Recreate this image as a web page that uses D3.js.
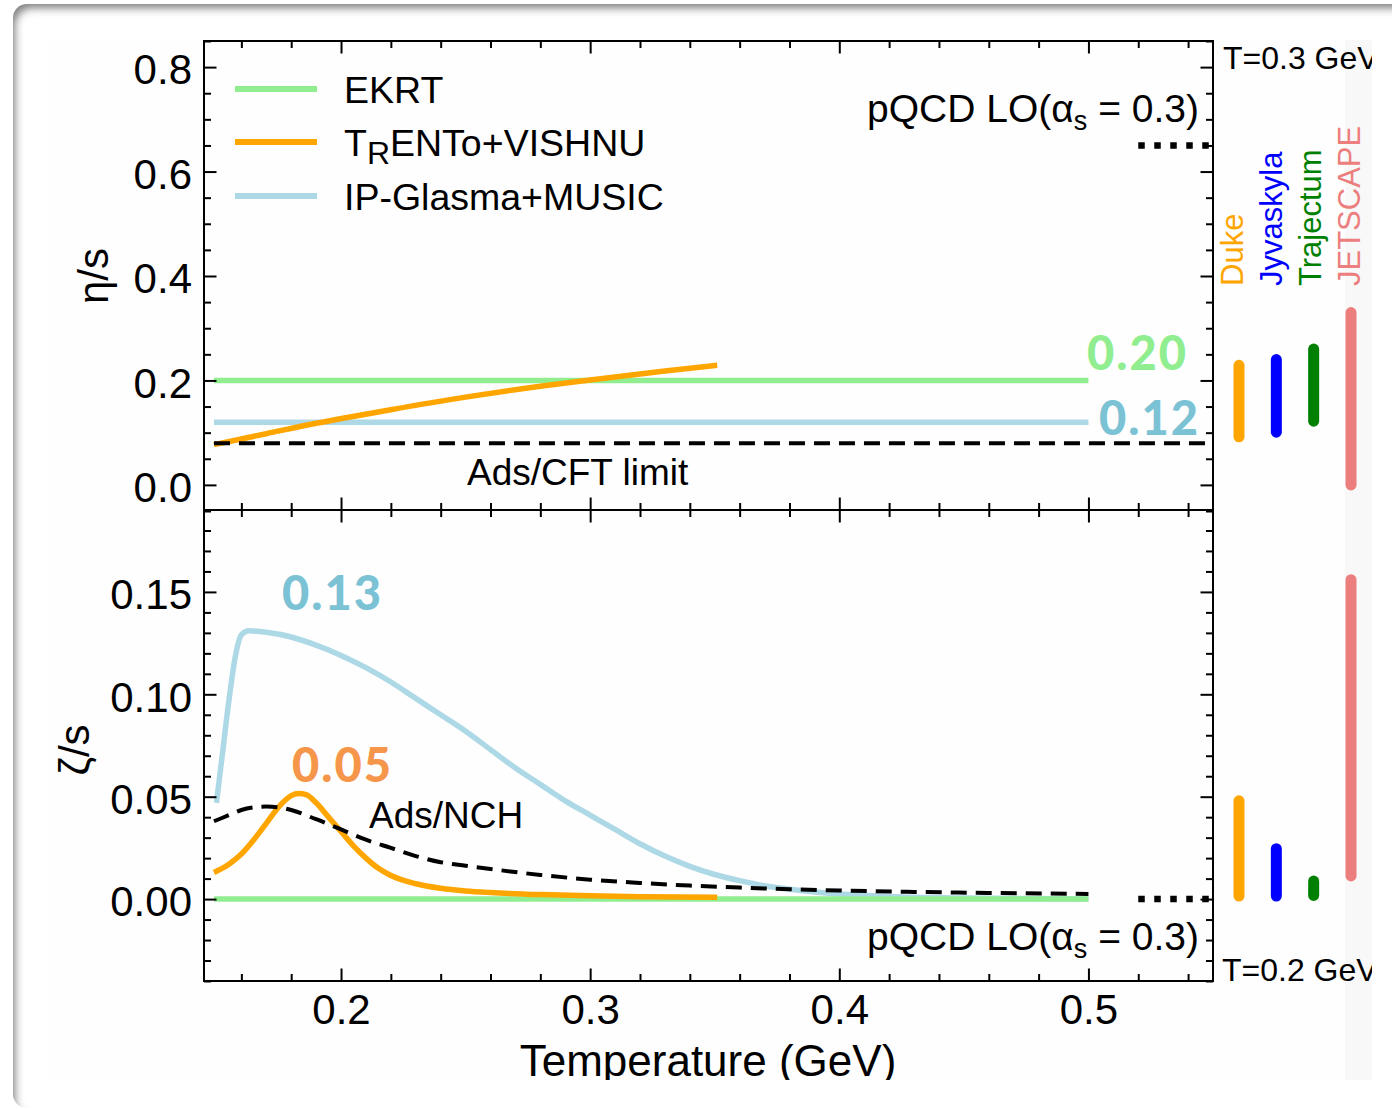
<!DOCTYPE html>
<html>
<head>
<meta charset="utf-8">
<script src="https://cdn.jsdelivr.net/npm/d3@7.9.0/dist/d3.min.js"></script>
<style>
  body { margin: 0; background: #fff; width: 1392px; height: 1109px; overflow: hidden; position: relative; }
  #card { position: absolute; left: 13px; top: 4px; width: 1450px; height: 1104px; border-radius: 14px;
          background: #fff; box-shadow: inset 5px 7px 9px -3px rgba(0,0,0,0.5); }
  svg { position: absolute; left: 0; top: 0; }
  text { font-family: "Liberation Sans", Arial, Helvetica, sans-serif; fill: #000; }
</style>
</head>
<body>
<div id="card"></div>
<svg id="chart" width="1392" height="1109"></svg>
<script>
// ---- data (temperature in GeV) ----
const etaT = [0.149, 0.5];
const ekrtEta = [0.20, 0.20];
const glasmaEta = [0.12, 0.12];
const trentoEtaT = [0.149, 0.17, 0.19, 0.22, 0.25, 0.28, 0.30, 0.33, 0.351];
const trentoEta = [0.077, 0.098, 0.118, 0.144, 0.168, 0.189, 0.201, 0.218, 0.229];
const adsCftT = [0.149, 0.55];
const adsCftEta = [0.0796, 0.0796];
const pqcdT = [0.52, 0.55];
const pqcdEta = [0.65, 0.65];
const pqcdZeta = [0.0, 0.0];

const ekrtZetaT = [0.149, 0.5];
const ekrtZeta = [0.0, 0.0];
const glasmaZetaT = [0.150, 0.1525, 0.155, 0.1575, 0.160, 0.163, 0.170, 0.180, 0.190, 0.200, 0.210, 0.220, 0.230, 0.240, 0.250,
  0.260, 0.270, 0.280, 0.290, 0.300, 0.310, 0.320, 0.330, 0.340, 0.350, 0.360, 0.370, 0.380, 0.400, 0.420, 0.450, 0.500];
const glasmaZeta = [0.047, 0.072, 0.097, 0.118, 0.129, 0.131, 0.1303, 0.128, 0.124, 0.119, 0.113, 0.106, 0.098, 0.090, 0.082,
  0.073, 0.064, 0.056, 0.048, 0.041, 0.034, 0.027, 0.021, 0.016, 0.012, 0.009, 0.0065, 0.0048, 0.0025, 0.0013, 0.0005, 0.0001];
const trentoZetaT = [0.149, 0.155, 0.160, 0.165, 0.170, 0.175, 0.180, 0.183, 0.186, 0.190, 0.195, 0.200, 0.205, 0.210,
  0.215, 0.220, 0.230, 0.240, 0.250, 0.260, 0.280, 0.300, 0.320, 0.351];
const trentoZeta = [0.013, 0.017, 0.022, 0.029, 0.037, 0.045, 0.0505, 0.0515, 0.051, 0.047, 0.040, 0.033, 0.026, 0.020,
  0.015, 0.0115, 0.0075, 0.0053, 0.0040, 0.0032, 0.0022, 0.0016, 0.0012, 0.0009];
const nchZetaT = [0.149, 0.155, 0.160, 0.165, 0.170, 0.175, 0.180, 0.190, 0.200, 0.210, 0.220, 0.230, 0.240, 0.250,
  0.260, 0.280, 0.300, 0.320, 0.340, 0.360, 0.380, 0.400, 0.430, 0.460, 0.500];
const nchZeta = [0.038, 0.041, 0.0435, 0.0448, 0.0452, 0.0448, 0.0435, 0.039, 0.034, 0.029, 0.025, 0.021, 0.018, 0.0163,
  0.0147, 0.0118, 0.0095, 0.0079, 0.0066, 0.0056, 0.0048, 0.0042, 0.0035, 0.0030, 0.0025];

// posterior ranges at T=0.3 GeV (eta/s) and T=0.2 GeV (zeta/s)
const groups = ['Duke', 'Jyvaskyla', 'Trajectum', 'JETSCAPE'];
const groupColors = ['#ffa500', '#0000ff', '#008000', '#ec7e7e'];
const etaLow = [0.092, 0.101, 0.122, 0.0];
const etaHigh = [0.229, 0.240, 0.260, 0.330];
const zetaLow = [0.0015, 0.0015, 0.0018, 0.0113];
const zetaHigh = [0.048, 0.0246, 0.0088, 0.156];

const xMajor = [0.2, 0.3, 0.4, 0.5];
const etaMajor = [0.0, 0.2, 0.4, 0.6, 0.8];
const zetaMajor = [0.0, 0.05, 0.10, 0.15];

const legendNames = ['EKRT', 'TRENTo+VISHNU', 'IP-Glasma+MUSIC'];
const modelColors = ['#90ee90', '#ffa500', '#add8e6'];

// ---- scales ----
const x = d3.scaleLinear().domain([0.145, 0.55]).range([204, 1213]);
const yEta = d3.scaleLinear().domain([-0.05, 0.85]).range([511, 41]);
const yZeta = d3.scaleLinear().domain([-0.04, 0.19]).range([981, 510]);
const xGroup = d3.scalePoint().domain(groups).range([1239, 1351]);
const xGroupLabel = d3.scalePoint().domain(groups).range([1243, 1360]);

const svg = d3.select('#chart');
const defs = svg.append('defs');
defs.append('clipPath').attr('id', 'img').append('rect')
  .attr('x', 48).attr('y', 40).attr('width', 1324).attr('height', 1040);
defs.append('clipPath').attr('id', 'topPlot').append('rect')
  .attr('x', 204).attr('y', 41).attr('width', 1009).attr('height', 469);
defs.append('clipPath').attr('id', 'botPlot').append('rect')
  .attr('x', 204).attr('y', 510).attr('width', 1009).attr('height', 471);

const root = svg.append('g').attr('clip-path', 'url(#img)');
root.append('rect').attr('x', 48).attr('y', 40).attr('width', 1324).attr('height', 1040).attr('fill', '#fefefe');
root.append('rect').attr('x', 1345).attr('y', 40).attr('width', 27).attr('height', 1040).attr('fill', '#f8f8f8');

function drawLine(g, xs, ys, yScale, color, width, dash) {
  const line = d3.line().x(d => x(d[0])).y(d => yScale(d[1])).curve(d3.curveMonotoneX);
  g.append('path')
    .attr('d', line(d3.zip(xs, ys)))
    .attr('fill', 'none')
    .attr('stroke', color)
    .attr('stroke-width', width)
    .attr('stroke-dasharray', dash || null);
}

// ---- top panel: eta/s ----
const gTop = root.append('g').attr('clip-path', 'url(#topPlot)');
drawLine(gTop, etaT, ekrtEta, yEta, modelColors[0], 5.5);
drawLine(gTop, etaT, glasmaEta, yEta, modelColors[2], 5.5);
drawLine(gTop, trentoEtaT, trentoEta, yEta, modelColors[1], 5.5);
drawLine(gTop, adsCftT, adsCftEta, yEta, '#000', 4, '16 9');
drawLine(gTop, pqcdT, pqcdEta, yEta, '#000', 6.5, '6.5 9.5');

// ---- bottom panel: zeta/s ----
const gBot = root.append('g').attr('clip-path', 'url(#botPlot)');
drawLine(gBot, glasmaZetaT, glasmaZeta, yZeta, modelColors[2], 5.5);
drawLine(gBot, ekrtZetaT, ekrtZeta, yZeta, modelColors[0], 5.5);
drawLine(gBot, trentoZetaT, trentoZeta, yZeta, modelColors[1], 5.5);
drawLine(gBot, nchZetaT, nchZeta, yZeta, '#000', 4, '16 9');
drawLine(gBot, pqcdT, pqcdZeta, yZeta, '#000', 6.5, '6.5 9.5');

// ---- axes ----
const minorX = d3.range(0.16, 0.55, 0.02).filter(v => !xMajor.some(m => Math.abs(m - v) < 1e-6));
const minorEta = d3.range(-0.05, 0.86, 0.05).filter(v => !etaMajor.some(m => Math.abs(m - v) < 1e-6));
const minorZeta = d3.range(-0.04, 0.191, 0.01).filter(v => !zetaMajor.some(m => Math.abs(m - v) < 1e-6));

function axis(gen, scale, pos, majors, minors, fmt, labels) {
  const g1 = root.append('g').attr('transform', pos)
    .call(gen(scale).tickValues(majors).tickSize(-12.5).tickPadding(labels ? 12 : 0)
      .tickFormat(labels ? fmt : ''));
  const g2 = root.append('g').attr('transform', pos)
    .call(gen(scale).tickValues(minors).tickSize(-7).tickFormat(''));
  [g1, g2].forEach(g => {
    g.select('.domain').remove();
    g.selectAll('line').attr('stroke', '#000').attr('stroke-width', 2);
  });
  g1.selectAll('text').style('font-size', '42px').attr('fill', '#000');
  return g1;
}

const f1 = d3.format('.1f'), f2 = d3.format('.2f');
axis(d3.axisTop, x, 'translate(0,41)', xMajor, minorX, null, false);
axis(d3.axisBottom, x, 'translate(0,510)', xMajor, minorX, null, false);
axis(d3.axisTop, x, 'translate(0,510)', xMajor, minorX, null, false);
const xa = axis(d3.axisBottom, x, 'translate(0,981)', xMajor, minorX, f1, true);
xa.selectAll('text').attr('dy', null).attr('y', 43);

const ya = axis(d3.axisLeft, yEta, 'translate(204,0)', etaMajor, minorEta, f1, true);
axis(d3.axisRight, yEta, 'translate(1213,0)', etaMajor, minorEta, null, false);
const yb = axis(d3.axisLeft, yZeta, 'translate(204,0)', zetaMajor, minorZeta, f2, true);
axis(d3.axisRight, yZeta, 'translate(1213,0)', zetaMajor, minorZeta, null, false);
[ya, yb].forEach(g => g.selectAll('text').attr('dy', '0.4em'));

// frames
root.append('rect').attr('x', 204).attr('y', 41).attr('width', 1009).attr('height', 940)
  .attr('fill', 'none').attr('stroke', '#000').attr('stroke-width', 2);
root.append('line').attr('x1', 204).attr('x2', 1213).attr('y1', 510).attr('y2', 510)
  .attr('stroke', '#000').attr('stroke-width', 2);

// axis titles
root.append('text').attr('transform', 'translate(108,276) rotate(-90)').attr('text-anchor', 'middle')
  .style('font-size', '42px').text('η/s');
root.append('text').attr('transform', 'translate(89,750) rotate(-90)').attr('text-anchor', 'middle')
  .style('font-size', '42px').text('ζ/s');
root.append('text').attr('x', 708).attr('y', 1076).attr('text-anchor', 'middle')
  .style('font-size', '44px').text('Temperature (GeV)');

// ---- legend ----
const legY = [89, 142, 196];
legendNames.forEach((name, i) => {
  root.append('line').attr('x1', 235).attr('x2', 317).attr('y1', legY[i]).attr('y2', legY[i])
    .attr('stroke', modelColors[i]).attr('stroke-width', 6);
  const t = root.append('text').attr('x', 344).attr('y', legY[i] + 14).style('font-size', '37.5px');
  if (name.startsWith('TRENTo')) {
    t.append('tspan').text('T');
    t.append('tspan').attr('dy', 8).style('font-size', '32px').text('R');
    t.append('tspan').attr('dy', -8).text('ENTo+VISHNU');
  } else {
    t.text(name);
  }
});

// ---- annotations ----
function pqcdLabel(yBase) {
  const t = root.append('text').attr('x', 1199).attr('y', yBase).attr('text-anchor', 'end').style('font-size', '39px');
  t.append('tspan').text('pQCD LO(α');
  t.append('tspan').attr('dy', 8).style('font-size', '27px').text('s');
  t.append('tspan').attr('dy', -8).text(' = 0.3)');
}
pqcdLabel(122);
pqcdLabel(950);
root.append('text').attr('x', 467).attr('y', 485).style('font-size', '37px').text('Ads/CFT limit');
root.append('text').attr('x', 369).attr('y', 828).style('font-size', '37px').text('Ads/NCH');

const bigLabels = [
  { t: '0.20', x: 1087, y: 370, c: '#90ee90' },
  { t: '0.12', x: 1099, y: 435, c: '#7bc2d5' },
  { t: '0.13', x: 282, y: 610, c: '#7bc2d5' },
  { t: '0.05', x: 292, y: 782, c: '#f5964a' }
];
bigLabels.forEach(d => {
  root.append('text').attr('x', d.x).attr('y', d.y)
    .style('font-family', 'Lato, "Open Sans", sans-serif').style('font-weight', 900)
    .style('font-size', '47px').style('letter-spacing', '2px').style('fill', d.c).text(d.t);
});

// ---- group ranges on the right ----
groups.forEach((g, i) => {
  root.append('line').attr('x1', xGroup(g)).attr('x2', xGroup(g))
    .attr('y1', yEta(etaLow[i])).attr('y2', yEta(etaHigh[i]))
    .attr('stroke', groupColors[i]).attr('stroke-width', 11).attr('stroke-linecap', 'round');
  root.append('line').attr('x1', xGroup(g)).attr('x2', xGroup(g))
    .attr('y1', yZeta(zetaLow[i])).attr('y2', yZeta(zetaHigh[i]))
    .attr('stroke', groupColors[i]).attr('stroke-width', 11).attr('stroke-linecap', 'round');
  root.append('text').attr('transform', `translate(${xGroupLabel(g)},286) rotate(-90)`)
    .style('font-size', '31px').style('fill', groupColors[i]).text(g);
});

root.append('text').attr('x', 1223).attr('y', 69).style('font-size', '32px').text('T=0.3 GeV');
root.append('text').attr('x', 1222).attr('y', 981).style('font-size', '32px').text('T=0.2 GeV');
</script>
</body>
</html>
